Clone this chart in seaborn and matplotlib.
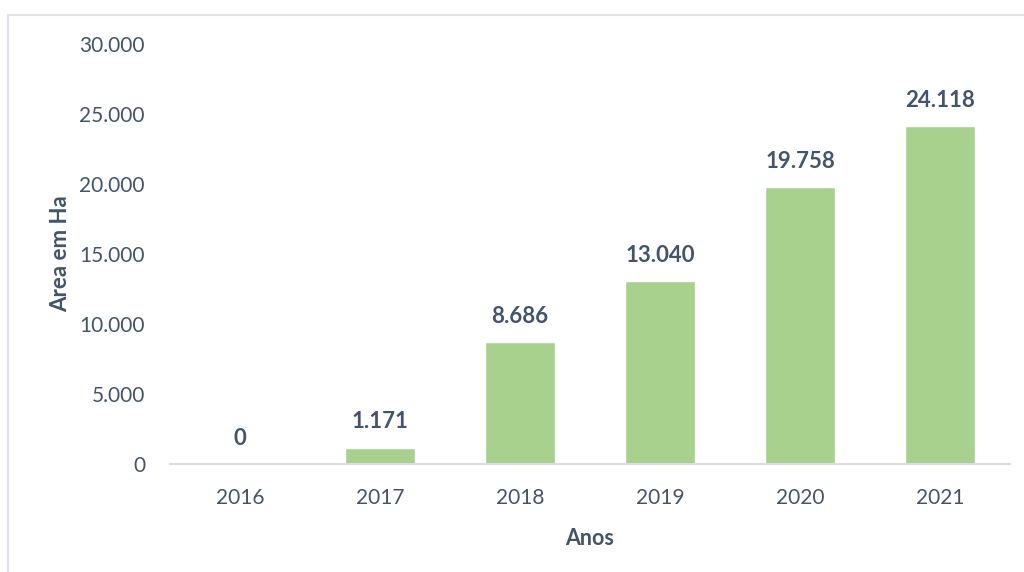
import matplotlib
matplotlib.use("Agg")
import matplotlib.pyplot as plt
import seaborn as sns
import pandas as pd
from matplotlib.patches import Rectangle
from matplotlib.ticker import FuncFormatter

years = ["2016", "2017", "2018", "2019", "2020", "2021"]
area_ha = [0, 1171, 8686, 13040, 19758, 24118]
y_ticks = [0, 5000, 10000, 15000, 20000, 25000, 30000]

def fmt(v):
    return f"{int(round(v)):,}".replace(",", ".")

sns.set_theme(style="white")
plt.rcParams['font.family'] = ['Lato', 'DejaVu Sans']

text_color = "#44546a"
bar_color = "#a9d18e"

df = pd.DataFrame({"Anos": years, "Area": area_ha})

fig = plt.figure(figsize=(10.24, 5.72), dpi=100)
ax = fig.add_axes([170/1024, 1 - 464/572, 840/1024, (464 - 44)/572])

sns.barplot(data=df, x="Anos", y="Area", color=bar_color, width=0.5, ax=ax,
            saturation=1)

ax.set_ylim(0, 30000)
ax.set_yticks(y_ticks)
ax.yaxis.set_major_formatter(FuncFormatter(lambda v, p: fmt(v)))
ax.tick_params(axis='y', length=0, pad=18, labelsize=15, labelcolor=text_color)
ax.tick_params(axis='x', length=0, pad=17, labelsize=15, labelcolor=text_color)

for s in ["top", "right", "left"]:
    ax.spines[s].set_visible(False)
ax.spines["bottom"].set_color("#d9dde4")
ax.spines["bottom"].set_linewidth(1.5)

for i, v in enumerate(area_ha):
    ax.annotate(fmt(v), (i, v), xytext=(0, 11), textcoords="offset points",
                ha="center", va="bottom", fontsize=16, fontweight="bold",
                color=text_color)

ax.set_xlabel("Anos", fontsize=15.5, fontweight="bold", color=text_color, labelpad=15)
ax.set_ylabel("Area em Ha", fontsize=16, fontweight="bold", color=text_color, labelpad=6)

# outer chart frame
frame = Rectangle((8/1024, -0.1), 1.2, 1 - 15/572 + 0.1, transform=fig.transFigure,
                  fill=False, edgecolor="#dfe2e8", linewidth=1.5)
fig.add_artist(frame)

fig.savefig("out.png", dpi=100)
